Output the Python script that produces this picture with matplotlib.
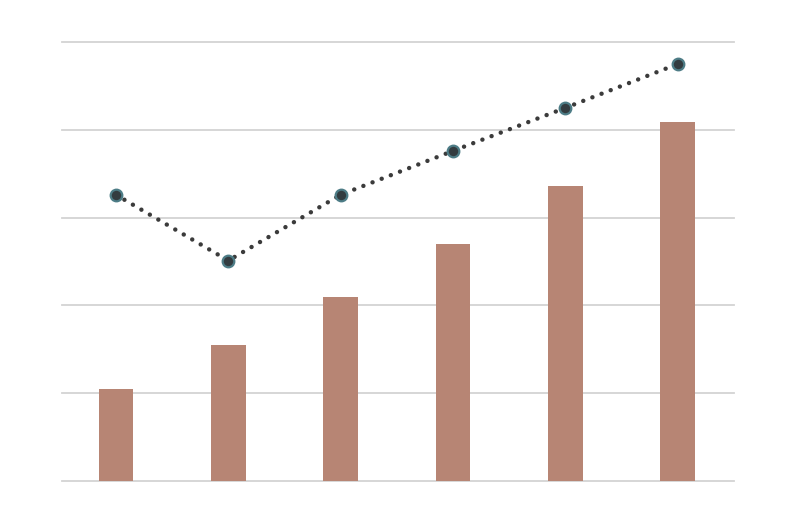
import matplotlib
matplotlib.use("Agg")
from matplotlib import pyplot as plt

# данные
categories = ["A", "B", "C", "D", "E", "F"]
bar_values = [1.05, 1.55, 2.10, 2.70, 3.36, 4.09]
line_values = [3.26, 2.51, 3.26, 3.76, 4.25, 4.75]

fig = plt.figure(figsize=(7.86, 5.18), dpi=100)
ax = fig.add_axes([62 / 786, (518 - 481) / 518, (734 - 62) / 786, (481 - 42) / 518])

x = list(range(len(categories)))

ax.bar(x, bar_values, width=0.31, color="#b78574", zorder=2)
ax.plot(x, line_values, linestyle=(0, (0.01, 2.2)), dash_capstyle="round",
        color="#3b3b3b", linewidth=3.2, zorder=3)
ax.scatter(x, line_values, s=70, c="#333c40", edgecolors="#4d7c86",
           linewidths=1.6, zorder=4)

ax.set_xlim(-0.48, len(categories) - 0.5)
ax.set_ylim(0, 5)
ax.set_yticks([0, 1, 2, 3, 4, 5])
ax.grid(axis="y", color="#d3d3d3", linewidth=1.3, zorder=0)
for gl in ax.get_ygridlines():
    gl.set_clip_on(False)
ax.set_axisbelow(True)

for s in ax.spines.values():
    s.set_visible(False)
ax.tick_params(left=False, bottom=False, labelleft=False, labelbottom=False)

fig.savefig("out.png", dpi=100)
